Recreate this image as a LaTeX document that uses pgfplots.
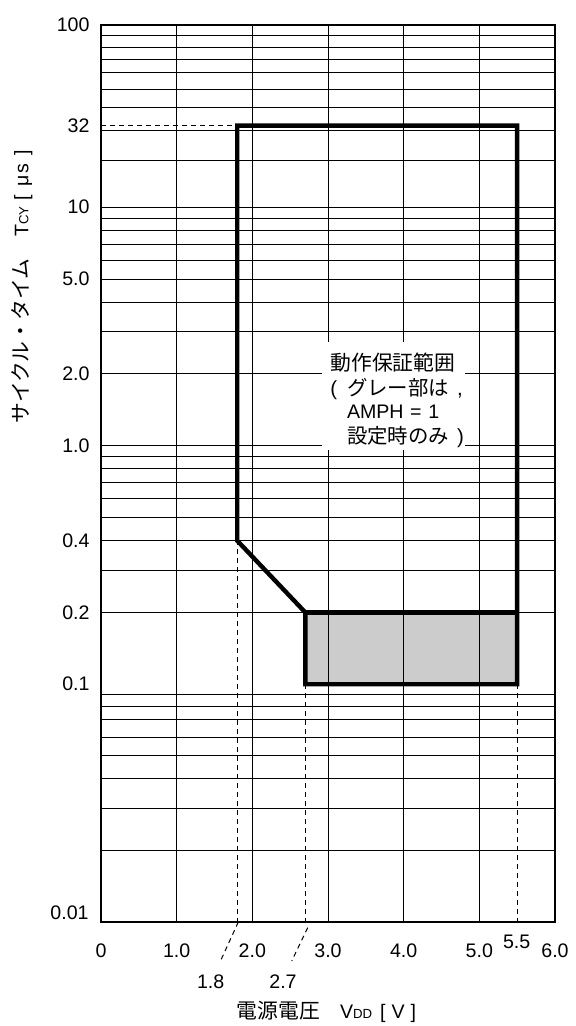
\documentclass[border=0pt]{standalone}
\usepackage{fontspec}
\setmainfont{Liberation Sans}
\newfontfamily\jp{Noto Sans CJK JP}
\usepackage{pgfplots}
\pgfplotsset{compat=1.18}
\tikzset{refdash/.style={black, line width=0.5pt, dash pattern=on 2.5pt off 2pt}}
\newcommand\lab{\fontsize{9.8}{11}\selectfont}
\begin{document}
\begin{tikzpicture}
\begin{axis}[
  at={(50.5pt,52pt)}, anchor=south west,
  scale only axis, width=227pt, height=448.5pt,
  xmin=0, xmax=6, ymin=0.01, ymax=100,
  y coord trafo/.code={\pgfmathparse{#1<10.0001 ? ln(#1)/2.302585093 : (#1<20.0001 ? 1+0.0196*(#1-10) : (#1<30.0001 ? 1.196+0.0127*(#1-20) : (#1<40.0001 ? 1.323+0.0094*(#1-30) : (#1<50.0001 ? 1.417+0.0078*(#1-40) : (#1<60.0001 ? 1.495+0.0069*(#1-50) : (#1<70.0001 ? 1.564+0.0054*(#1-60) : (#1<80.0001 ? 1.618+0.005*(#1-70) : (#1<90.0001 ? 1.668+0.0051*(#1-80) : 1.719+0.0045*(#1-90)))))))))}},
  xtick={0,1,2,3,4,5,6},
  xticklabels={0,1.0,2.0,3.0,4.0,5.0,6.0},
  ytick={0.1,0.2,0.4,1,2,5,10,32,100},
  yticklabels={0.1,0.2,0.4,1.0,2.0,5.0,10,32,100},
  minor ytick={0.02,0.03,0.04,0.05,0.06,0.07,0.08,0.09,0.2,0.3,0.4,0.5,0.6,0.7,0.8,0.9,1,2,3,4,5,6,7,8,9,10,20,30,40,50,60,70,80,90},
  xmajorgrids, yminorgrids, ymajorgrids=false,
  major tick length=0pt, minor tick length=0pt,
  grid style={black, line width=0.5pt},
  minor grid style={black, line width=0.5pt},
  axis line style={line width=1.2pt},
  tick label style={font=\lab},
  /pgf/number format/assume math mode=true,
  xticklabel style={anchor=center, yshift=-14.5pt},
  yticklabel style={anchor=east, xshift=-2.2pt},
  clip=false, no markers,
  set layers=standard,
]
\addplot[draw=none, fill=black!20, on layer=axis background] coordinates {(2.7,0.1) (5.5,0.1) (5.5,0.2) (2.7,0.2)} -- cycle;
\addplot[refdash] coordinates {(0,32) (1.8,32)};
\addplot[refdash] coordinates {(1.8,0.01) (1.8,0.4)};
\addplot[refdash] coordinates {(2.7,0.01) (2.7,0.1)};
\addplot[refdash] coordinates {(5.5,0.01) (5.5,0.1)};
\addplot[black, line width=2.2pt] coordinates {(1.8,32) (5.5,32) (5.5,0.1) (2.7,0.1) (2.7,0.2) (1.8,0.4)} -- cycle;
\addplot[black, line width=2.2pt] coordinates {(2.7,0.2) (5.5,0.2)};
\end{axis}
% white label box
\fill[white] (161pt,288pt) rectangle (232.5pt,342pt);
\node[anchor=base west, inner sep=0pt, font=\jp\fontsize{10.4}{12}\selectfont] at (165pt,327.75pt) {動作保証範囲};
\node[anchor=base west, inner sep=0pt, font=\fontsize{10.2}{12}\selectfont] at (165pt,315pt) {(\hspace{5pt}{\jp グレー部は}\hspace{4pt},};
\node[anchor=base west, inner sep=0pt, font=\lab] at (173.3pt,303.5pt) {AMPH\hspace{3.3pt}=\hspace{3.3pt}1};
\node[anchor=base west, inner sep=0pt, font=\fontsize{10.2}{12}\selectfont] at (173.3pt,291pt) {{\jp 設定時のみ}\hspace{4pt})};
% extra x labels
\node[inner sep=0pt, font=\lab] at (258.35pt,42.25pt) {5.5};
\node[inner sep=0pt, font=\lab] at (105.35pt,22.15pt) {1.8};
\node[inner sep=0pt, font=\lab] at (141.5pt,22.15pt) {2.7};
\draw[refdash] (119.15pt,52pt) -- (110pt,32pt);
\draw[refdash] (153.85pt,49.15pt) -- (145.85pt,32.5pt);
\node[anchor=east, inner sep=0pt, font=\lab] at (44.5pt,56.5pt) {0.01};
% axis titles
\node[rotate=90, inner sep=0pt, font=\lab] at (11pt,369.5pt) {{\jp\fontsize{10.4}{12}\selectfont サイクル・タイム}\hspace{11pt}T{\fontsize{6.6}{7}\selectfont CY}\hspace{3pt}[\hspace{4pt}μ\hspace{1pt}s\hspace{4pt}]};
\node[inner sep=0pt, font=\lab] at (163.25pt,7pt) {{\jp\fontsize{10.4}{12}\selectfont 電源電圧}\hspace{10pt}V{\fontsize{6.6}{7}\selectfont DD}\hspace{4pt}[\hspace{3pt}V\hspace{3pt}]};
\path (0,0) rectangle (285.5pt,513pt);
\end{tikzpicture}
\end{document}
